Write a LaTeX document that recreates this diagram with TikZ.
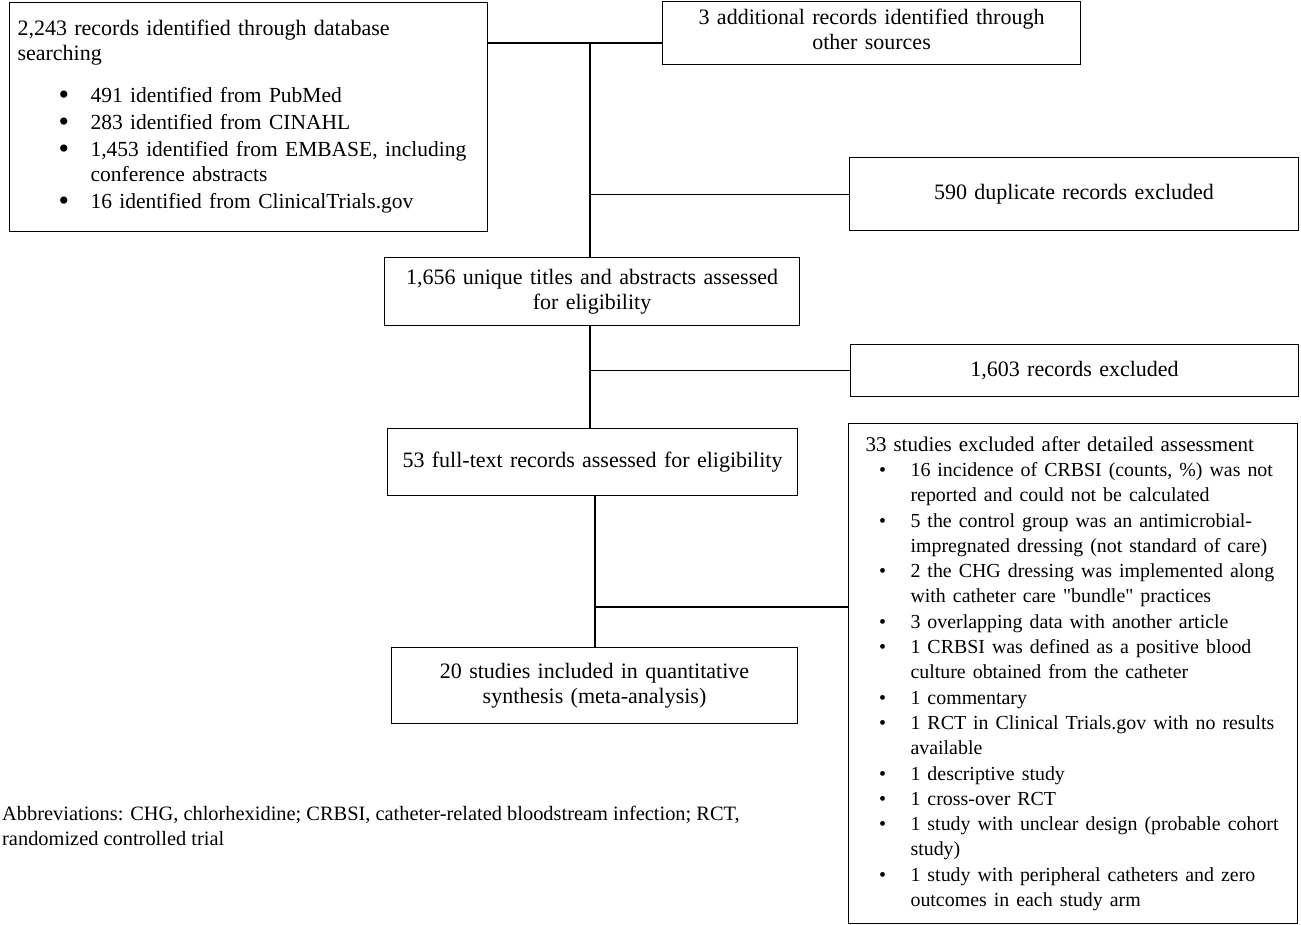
\documentclass[tikz,border=0pt]{standalone}
\usepackage{fontspec}
\setmainfont{Liberation Serif}
\newcommand{\fmain}{\fontsize{22}{25}\selectfont}
\newcommand{\fsmall}{\fontsize{21}{25.3}\selectfont}
\newcommand{\fitemA}{\fontsize{21.5}{25}\selectfont}
\newcommand{\fitemH}{\fontsize{19.9}{25.3}\selectfont}
\newcommand{\bulA}{\par\hangindent=73pt\hangafter=0\noindent\llap{\makebox[32pt][l]{\raisebox{-1.5pt}{\fontsize{30}{30}\selectfont\textbullet}}}}
\newcommand{\bulH}{\par\hangindent=50pt\hangafter=0\noindent\llap{\makebox[31.5pt][l]{\raisebox{0pt}{\fontsize{20}{20}\selectfont\textbullet}}}}
\begin{document}
\begin{tikzpicture}[x=1pt,y=-1pt,
  box/.style={draw,line width=1.1pt,inner sep=0pt,anchor=north west,align=center,font=\fmain},
  conn/.style={line width=1.1pt}]
\useasboundingbox (0,0) rectangle (1301,924);
\node[box,minimum width=478pt,minimum height=229pt,text width=462pt,align=left] (A) at (9,2)
 {\parindent=0pt\parskip=2pt
  \mbox{2,243 records identified through database}\newline searching\par\vspace{15pt}\fitemA
  \bulA 491 identified from PubMed
  \bulA 283 identified from CINAHL
  \bulA \mbox{1,453 identified from EMBASE, including}\newline conference abstracts
  \bulA 16 identified from ClinicalTrials.gov\par};
\node[box,minimum width=418pt,minimum height=63pt,text width=408pt] (B) at (662,1)
 {3 additional records identified through\\ other sources\strut};
\node[box,minimum width=449pt,minimum height=73pt,text width=440pt] (D) at (849,157)
 {590 duplicate records excluded};
\node[box,minimum width=415pt,minimum height=68pt,text width=405pt] (C) at (384,257)
 {1,656 unique titles and abstracts assessed\\ for eligibility};
\node[box,minimum width=448pt,minimum height=52pt,text width=440pt] (F) at (850,344)
 {1,603 records excluded};
\node[box,minimum width=410pt,minimum height=67pt,text width=400pt] (E) at (387,428)
 {53 full-text records assessed for eligibility};
\node[box,minimum width=406pt,minimum height=76pt,text width=396pt] (G) at (391,647)
 {20 studies included in quantitative\\ synthesis (meta-analysis)};
\node[box,minimum width=449pt,minimum height=500pt,text width=425pt,align=left,font=\fsmall] (H) at (848,423)
 {\parindent=0pt\parskip=0pt
  \hspace*{5pt}\mbox{33 studies excluded after detailed assessment}\fitemH
  \bulH \mbox{16 incidence of CRBSI (counts, \%) was not}\newline reported and could not be calculated
  \bulH \mbox{5 the control group was an antimicrobial-}\newline \mbox{impregnated dressing (not standard of care)}
  \bulH \mbox{2 the CHG dressing was implemented along}\newline \mbox{with catheter care \textquotedbl bundle\textquotedbl{} practices}
  \bulH 3 overlapping data with another article
  \bulH \mbox{1 CRBSI was defined as a positive blood}\newline culture obtained from the catheter
  \bulH 1 commentary
  \bulH \mbox{1 RCT in Clinical Trials.gov with no results}\newline available
  \bulH 1 descriptive study
  \bulH 1 cross-over RCT
  \bulH \mbox{1 study with unclear design (probable cohort}\newline study)
  \bulH \mbox{1 study with peripheral catheters and zero}\newline outcomes in each study arm\par};
\node[anchor=north west,inner sep=0pt,align=left,font=\fontsize{20.4}{24.5}\selectfont] (abbr) at (2,806)
 {Abbreviations: CHG, chlorhexidine; CRBSI, catheter-related bloodstream infection; RCT,\\ randomized controlled trial};
\coordinate (j1) at (590,43);
\coordinate (j3) at (595,607);
\draw[conn] (A.east |- j1) -- (B.west |- j1);
\draw[conn] (j1) -- (j1 |- C.north);
\draw[conn] (j1 |- D.west) -- (D.west);
\draw[conn] (j1 |- C.south) -- (j1 |- E.north);
\draw[conn] (j1 |- F.west) -- (F.west);
\draw[conn] (j3 |- E.south) -- (j3 |- G.north);
\draw[conn] (j3) -- (j3 -| H.west);
\end{tikzpicture}
\end{document}
